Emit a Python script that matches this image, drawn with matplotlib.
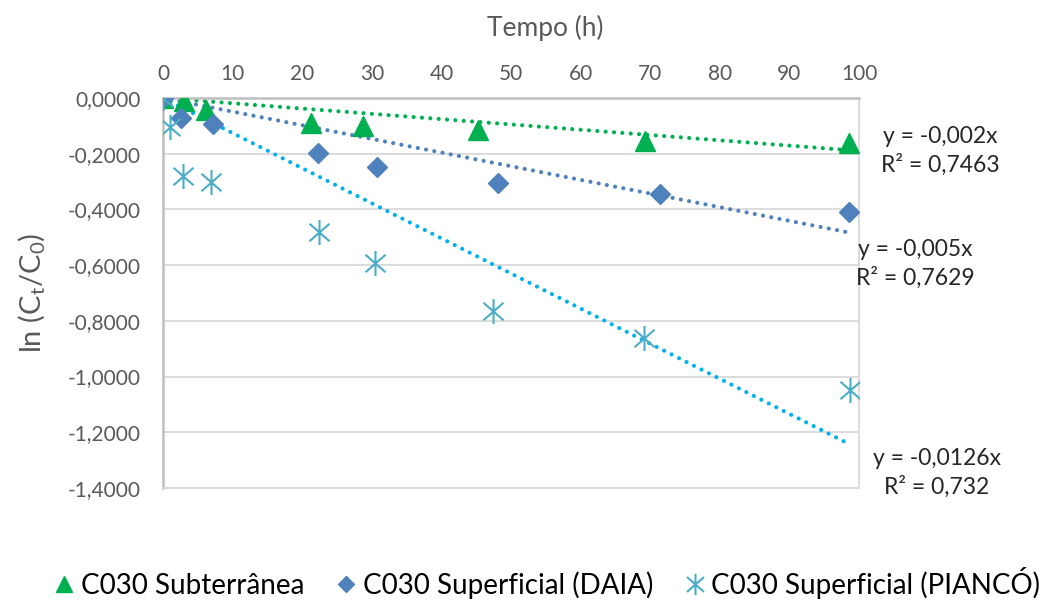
import numpy as np
import matplotlib
matplotlib.use('Agg')
import matplotlib.pyplot as plt
from matplotlib.path import Path
from matplotlib.ticker import FuncFormatter, MultipleLocator

plt.rcParams['font.family'] = ['Lato', 'DejaVu Sans']

# data
t_sub = [0, 3.0, 6.2, 21.3, 28.7, 45.3, 69.3, 98.5]
y_sub = [0.0, -0.012, -0.044, -0.091, -0.100, -0.115, -0.153, -0.160]

t_daia = [0, 2.6, 7.2, 22.3, 30.7, 48.1, 71.4, 98.6]
y_daia = [0.0, -0.073, -0.094, -0.199, -0.247, -0.304, -0.346, -0.411]

t_pian = [0, 1.0, 2.9, 6.9, 22.4, 30.4, 47.4, 69.1, 98.7]
y_pian = [0.0, -0.105, -0.280, -0.301, -0.480, -0.594, -0.765, -0.861, -1.048]

names = ["C030 Subterrânea", "C030 Superficial (DAIA)", "C030 Superficial (PIANCÓ)"]
eq_text = ["y = -0,002x\nR² = 0,7463", "y = -0,005x\nR² = 0,7629", "y = -0,0126x\nR² = 0,732"]
slopes = [-0.0019, -0.0049, -0.0126]

# Excel style asterisk: vertical bar + X
star = Path([(0, -1), (0, 1), (-0.8, -0.7), (0.8, 0.7), (-0.8, 0.7), (0.8, -0.7)],
            [Path.MOVETO, Path.LINETO, Path.MOVETO, Path.LINETO, Path.MOVETO, Path.LINETO])

fig = plt.figure(figsize=(10.54, 6), dpi=100)
ax = fig.add_axes([0.1547, 0.1867, 0.815 - 0.1547, 0.8367 - 0.1867])

grid_c = '#d9d9d9'
text_c = '#595959'

series = [
    (t_sub, y_sub, '^', '#00b050', '#00b050', 14),
    (t_daia, y_daia, 'D', '#4f81bd', '#4f81bd', 10),
    (t_pian, y_pian, star, '#4bacc6', '#00b0f0', 18),
]

handles = []
for (tx, ty, mk, mc, lc, ms), k, name in zip(series, slopes, names):
    xs = np.array([0, max(tx)])
    ax.plot(xs, k * xs, linestyle=(0, (0.01, 2.0)), color=lc, lw=3.0,
            dash_capstyle='round', zorder=2)
    if mk is star:
        h, = ax.plot(tx, ty, linestyle='none', marker=mk, ms=ms, mec=mc, mfc='none',
                     mew=1.5, zorder=3, label=name)
    else:
        h, = ax.plot(tx, ty, linestyle='none', marker=mk, ms=ms, color=mc, mec=mc,
                     zorder=3, label=name)
    handles.append(h)

ax.set_xlim(0, 100)
ax.set_ylim(-1.4, 0)
ax.xaxis.set_major_locator(MultipleLocator(10))
ax.yaxis.set_major_locator(MultipleLocator(0.2))
ax.yaxis.set_major_formatter(FuncFormatter(lambda v, p: ('%.4f' % (v + 0.0)).replace('.', ',').replace('-0,0000', '0,0000')))
ax.xaxis.tick_top()
ax.xaxis.set_label_position('top')
ax.tick_params(axis='both', length=0, labelsize=15, colors=text_c)
ax.tick_params(axis='y', pad=16)
ax.tick_params(axis='x', pad=10)
ax.grid(axis='y', color=grid_c, lw=1.3)
for s in ax.spines.values():
    s.set_color(grid_c)
    s.set_linewidth(1.3)
ax.spines['left'].set_color('#bfbfbf')
ax.spines['left'].set_linewidth(1.8)
ax.spines['top'].set_color('#bfbfbf')
ax.spines['top'].set_linewidth(1.8)
ax.set_axisbelow(True)

ax.set_xlabel("Tempo (h)", fontsize=19, color=text_c, labelpad=20, x=0.549)
ax.set_ylabel("ln (C$_\\mathregular{t}$/C$_\\mathregular{0}$)", fontsize=21, color=text_c, labelpad=14)

eq_pos = [(0.892, 0.748), (0.868, 0.56), (0.889, 0.212)]
for (px, py), txt in zip(eq_pos, eq_text):
    fig.text(px, py, txt, fontsize=16.5, color='#262626', ha='center', va='center', linespacing=1.35)

leg = fig.legend(handles=handles, loc='center', bbox_to_anchor=(0.52, 0.028), ncol=3, frameon=False,
                 fontsize=20, handlelength=0.6, handletextpad=0.3, columnspacing=1.2, markerscale=0.85)

fig.savefig('out.png', dpi=100)
